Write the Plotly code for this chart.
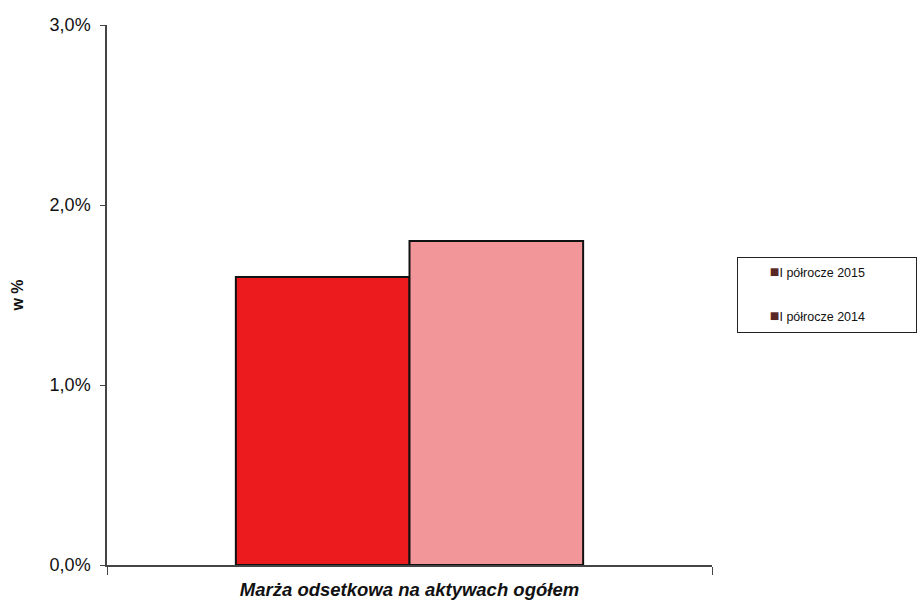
import plotly.graph_objects as go

# Interest margin on total assets, in percent
categories = ["Marża odsetkowa na aktywach ogółem"]
series_names = ["I półrocze 2015", "I półrocze 2014"]
values_2015 = [1.6]
values_2014 = [1.8]
y_ticks = [0, 1, 2, 3]
y_tick_labels = ["0,0%", "1,0%", "2,0%", "3,0%"]

bar_colors = ["#ec1c1e", "#f2969a"]
legend_marker = "#5a2626"

fig = go.Figure()
for name, vals, col in zip(series_names, [values_2015, values_2014], bar_colors):
    fig.add_trace(go.Bar(
        x=categories, y=vals, name=name, showlegend=False,
        marker=dict(color=col, line=dict(color="#111111", width=2)),
    ))

# legend entries: small dark square drawn inline before each label,
# padded so the legend frame reaches the right edge of the page
pad = "\u00a0" * 13
for i, name in enumerate(series_names):
    fig.add_trace(go.Scatter(
        x=[None], y=[None], mode="markers",
        name=(f"<span style='color:{legend_marker};font-size:16px'>■</span>"
              f"{name}{pad}"),
        legendgroup=f"g{i}",
        marker=dict(symbol="square", size=8, color="rgba(0,0,0,0)"),
    ))

fig.update_layout(
    width=920, height=601,
    margin=dict(l=107, r=208, t=25, b=36, autoexpand=False),
    paper_bgcolor="white", plot_bgcolor="white",
    barmode="group", bargap=0.426, bargroupgap=0,
    font=dict(family="Liberation Sans, Arial, sans-serif", color="#111111"),
    showlegend=True,
    legend=dict(
        x=1.041, y=0.571, xanchor="left", yanchor="top",
        bordercolor="#222222", borderwidth=1,
        font=dict(size=12.5, color="#111111"),
        tracegroupgap=25, traceorder="grouped",
        itemwidth=30, indentation=-8,
    ),
    xaxis=dict(
        range=[-0.5, 0.5], showline=True, linecolor="#444444", linewidth=1.5,
        ticks="outside", tickson="boundaries", ticklen=8, tickcolor="#444444",
        ticklabelstandoff=7, automargin=False,
        tickfont=dict(size=18.5, weight="bold", style="italic", color="#111111"),
        showgrid=False, zeroline=False,
    ),
    yaxis=dict(
        range=[0, 3], tickvals=y_ticks, ticktext=y_tick_labels,
        showline=True, linecolor="#444444", linewidth=1.5,
        ticks="outside", ticklen=5, tickcolor="#444444",
        ticklabelstandoff=6, automargin=False,
        tickfont=dict(size=18, color="#111111"),
        showgrid=False, zeroline=False,
        title=dict(text="w %", font=dict(size=16, weight="bold"), standoff=22),
    ),
)

fig.write_html("out.html")
